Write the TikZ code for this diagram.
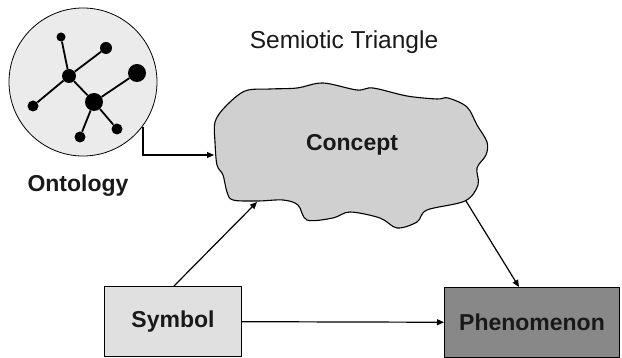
\documentclass[tikz,border=0pt]{standalone}
\usepackage{fontspec}
\setmainfont{Liberation Sans}
\usetikzlibrary{arrows.meta}
\definecolor{circfill}{HTML}{EBEBEB}
\definecolor{cloudfill}{HTML}{D0D0D0}
\definecolor{symfill}{HTML}{E0E0E0}
\definecolor{phenfill}{HTML}{888888}
\tikzset{
  conn/.style={draw=black, line width=1.2pt, -{Triangle[length=7pt,width=6pt]}},
  lbl/.style={font=\fontsize{23}{26}\selectfont\bfseries, text=black!90},
  boxstyle/.style={draw=black, line width=1pt, minimum width=137pt, minimum height=70pt, inner sep=0pt},
  ont/.style={draw=black, line width=1.8pt},
  dotn/.style={fill=black, circle, inner sep=0pt},
}
\begin{document}
\begin{tikzpicture}[x=1pt,y=-1pt]
\useasboundingbox (0,0) rectangle (622,358);
% title
\node[font=\fontsize{24.5}{28}\selectfont, text=black!90] (title) at (344,42) {Semiotic Triangle};
% ontology circle
\node[circle, draw=black, line width=0.8pt, fill=circfill, minimum size=148pt, inner sep=0pt] (onto) at (83,82) {};
\node[dotn, minimum size=9pt] (n1) at (61,37) {};
\node[dotn, minimum size=12pt] (n2) at (106,48) {};
\node[dotn, minimum size=14pt] (h1) at (69,76) {};
\node[dotn, minimum size=18pt] (n3) at (137,73) {};
\node[dotn, minimum size=11pt] (n4) at (33,106) {};
\node[dotn, minimum size=18pt] (h2) at (94,102) {};
\node[dotn, minimum size=11pt] (n5) at (80,137) {};
\node[dotn, minimum size=11pt] (n6) at (117,129) {};
\draw[ont] (n1) -- (h1) (h1) -- (n2) (h1) -- (n4) (h1) -- (h2)
  (h2) -- (n3) (h2) -- (n5) (h2) -- (n6);
\node[lbl] (ontolabel) at (78,186) {Ontology};
% cloud
\draw[line width=1.1pt, fill=cloudfill] plot[smooth cycle, tension=0.55] coordinates {
 (245,91) (270,89) (297,88) (323,83) (357,90) (373,88) (407,96) (437,99) (448,98)
 (467,107) (477,125) (487,142) (486,155) (477,168) (478,185) (465,201)
 (427,210) (417,222) (397,228) (380,218) (350,212) (333,218) (307,220)
 (298,205) (283,200) (258,201) (233,200) (227,192) (223,175) (217,165)
 (215,142) (215,122) (225,107)};
\node[lbl] (concept) at (352,145) {Concept};
\coordinate (cloudL) at (214,155);
\coordinate (cloudBL) at (257,202);
\coordinate (cloudBR) at (466,201);
\coordinate (ontoout) at (143,127);
% boxes
\node[boxstyle, fill=symfill, anchor=north west, lbl] (symbol) at (104,286) {Symbol};
\node[boxstyle, fill=phenfill, anchor=north west, minimum width=175pt, lbl] (phen) at (444,287) {Phenomenon};
% connectors
\draw[conn] (ontoout) |- (cloudL);
\draw[conn] (symbol.north west) ++(70,0) coordinate (symtop) -- (cloudBL);
\draw[conn] (cloudBR) -- (phen.north west -| 519,0);
\draw[conn] (symbol) -- (phen);
\end{tikzpicture}
\end{document}
